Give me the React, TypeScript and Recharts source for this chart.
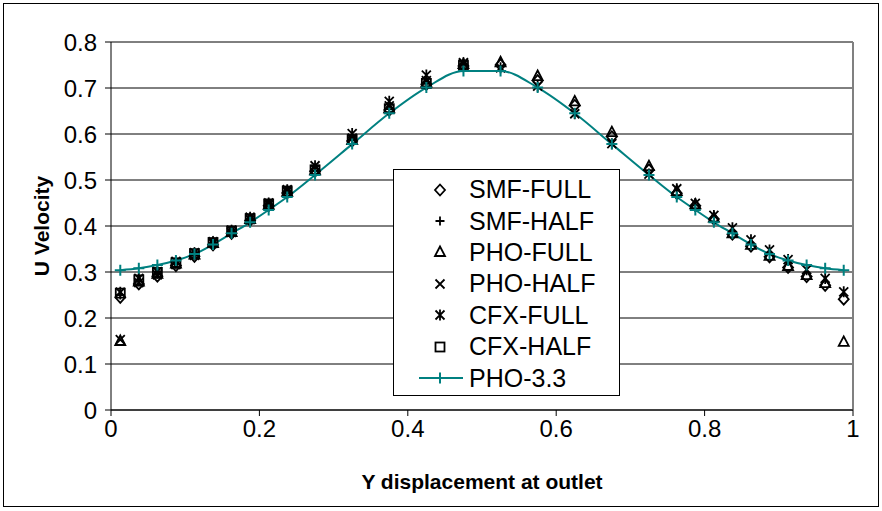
import React from "react";
import {
  ComposedChart,
  Scatter,
  Line,
  XAxis,
  YAxis,
  CartesianGrid,
  Legend,
  ReferenceLine,
} from "recharts";

const FONT = '"Liberation Sans", Arial, sans-serif';

// y displacement positions (full width), the half-domain runs stop at the middle
const xFull = [
  0.0125, 0.0375, 0.0625, 0.0875, 0.1125, 0.1375, 0.1625, 0.1875, 0.2125, 0.2375,
  0.275, 0.325, 0.375, 0.425, 0.475, 0.525, 0.575, 0.625, 0.675, 0.725,
  0.7625, 0.7875, 0.8125, 0.8375, 0.8625, 0.8875, 0.9125, 0.9375, 0.9625, 0.9875,
];
const xHalf = xFull.slice(0, 15);

const smfFull = [
  0.245, 0.274, 0.291, 0.314, 0.334, 0.359, 0.384, 0.412, 0.444, 0.472,
  0.519, 0.585, 0.652, 0.708, 0.748, 0.75, 0.716, 0.662, 0.594, 0.522,
  0.471, 0.444, 0.415, 0.382, 0.356, 0.333, 0.31, 0.29, 0.271, 0.241,
];
const smfHalf = [0.25, 0.279, 0.295, 0.317, 0.337, 0.361, 0.386, 0.413, 0.445, 0.473, 0.52, 0.586, 0.654, 0.709, 0.749];
const phoFull = [
  0.15, 0.279, 0.296, 0.318, 0.338, 0.363, 0.387, 0.415, 0.446, 0.474,
  0.521, 0.587, 0.656, 0.712, 0.752, 0.756, 0.726, 0.671, 0.604, 0.53,
  0.476, 0.447, 0.418, 0.384, 0.359, 0.335, 0.313, 0.293, 0.276, 0.148,
];
const phoHalf = [0.153, 0.277, 0.294, 0.316, 0.336, 0.362, 0.386, 0.414, 0.446, 0.475, 0.523, 0.591, 0.661, 0.716, 0.753];
const cfxFull = [
  0.256, 0.286, 0.301, 0.323, 0.342, 0.366, 0.391, 0.419, 0.45, 0.479,
  0.531, 0.601, 0.671, 0.728, 0.755, 0.744, 0.704, 0.644, 0.579, 0.513,
  0.481, 0.449, 0.423, 0.396, 0.37, 0.348, 0.327, 0.305, 0.286, 0.257,
];
const cfxHalf = [0.254, 0.283, 0.299, 0.32, 0.34, 0.364, 0.389, 0.416, 0.448, 0.476, 0.522, 0.588, 0.655, 0.71, 0.749];
const pho33 = [
  0.304, 0.308, 0.315, 0.325, 0.339, 0.36, 0.384, 0.408, 0.435, 0.463,
  0.511, 0.578, 0.645, 0.701, 0.737, 0.737, 0.701, 0.645, 0.578, 0.511,
  0.463, 0.435, 0.408, 0.384, 0.36, 0.339, 0.325, 0.315, 0.308, 0.304,
];

const xTicks = [0, 0.2, 0.4, 0.6, 0.8, 1];
const yTicks = [0, 0.1, 0.2, 0.3, 0.4, 0.5, 0.6, 0.7, 0.8];

type Kind = "diamond" | "plus" | "triangle" | "x" | "star" | "square" | "tealPlus";

const series: { name: string; kind: Kind; xs: number[]; ys: number[] }[] = [
  { name: "SMF-FULL", kind: "diamond", xs: xFull, ys: smfFull },
  { name: "SMF-HALF", kind: "plus", xs: xHalf, ys: smfHalf },
  { name: "PHO-FULL", kind: "triangle", xs: xFull, ys: phoFull },
  { name: "PHO-HALF", kind: "x", xs: xHalf, ys: phoHalf },
  { name: "CFX-FULL", kind: "star", xs: xFull, ys: cfxFull },
  { name: "CFX-HALF", kind: "square", xs: xHalf, ys: cfxHalf },
];

const toPoints = (xs: number[], ys: number[]) => xs.map((x, i) => ({ x, y: ys[i] }));

function Marker({ kind, cx, cy }: { kind: Kind; cx: number; cy: number }) {
  const k = { fill: "none", stroke: "#000", strokeWidth: 1.8 };
  switch (kind) {
    case "diamond":
      return <path d={`M${cx},${cy - 5.5}L${cx + 5},${cy}L${cx},${cy + 5.5}L${cx - 5},${cy}Z`} {...k} />;
    case "plus":
      return <path d={`M${cx - 4.5},${cy}H${cx + 4.5}M${cx},${cy - 4.5}V${cy + 4.5}`} {...k} />;
    case "triangle":
      return <path d={`M${cx},${cy - 5.5}L${cx + 5},${cy + 4}L${cx - 5},${cy + 4}Z`} {...k} />;
    case "x":
      return <path d={`M${cx - 4.5},${cy - 4.5}L${cx + 4.5},${cy + 4.5}M${cx - 4.5},${cy + 4.5}L${cx + 4.5},${cy - 4.5}`} {...k} />;
    case "star":
      return (
        <path
          d={`M${cx - 4.5},${cy - 4.5}L${cx + 4.5},${cy + 4.5}M${cx - 4.5},${cy + 4.5}L${cx + 4.5},${cy - 4.5}M${cx},${cy - 5.5}V${cy + 5.5}`}
          {...k}
        />
      );
    case "square":
      return <rect x={cx - 4.5} y={cy - 4.5} width={9} height={9} {...k} />;
    default:
      return (
        <path
          d={`M${cx - 5.5},${cy}H${cx + 5.5}M${cx},${cy - 5.5}V${cy + 5.5}`}
          fill="none"
          stroke="#008080"
          strokeWidth={2}
        />
      );
  }
}

const legendItems = [...series.map((s) => ({ name: s.name, kind: s.kind })), { name: "PHO-3.3", kind: "tealPlus" as Kind }];

function LegendBox() {
  return (
    <div
      style={{
        width: 227,
        height: 227,
        border: "1px solid #000",
        background: "#fff",
        boxSizing: "border-box",
        fontFamily: FONT,
        fontSize: 25,
        color: "#000",
        paddingTop: 4,
      }}
    >
      {legendItems.map((it) => (
        <div key={it.name} style={{ height: 31.4, display: "flex", alignItems: "center" }}>
          <svg width={54} height={20} style={{ marginLeft: 20, flexShrink: 0 }}>
            {it.kind === "tealPlus" && <line x1={5} x2={49} y1={10} y2={10} stroke="#008080" strokeWidth={2} />}
            <Marker kind={it.kind} cx={26} cy={10} />
          </svg>
          <span style={{ marginLeft: 1, lineHeight: 1, whiteSpace: "nowrap" }}>{it.name}</span>
        </div>
      ))}
    </div>
  );
}

export default function App() {
  return (
    <div style={{ position: "absolute", left: 0, top: 0, width: 882, height: 511, background: "#fff" }}>
      <div
        style={{
          position: "absolute",
          left: 3,
          top: 3,
          width: 876,
          height: 504,
          border: "1px solid #000",
          boxSizing: "border-box",
        }}
      />
      <ComposedChart width={882} height={511} margin={{ top: 42, right: 29, bottom: 0, left: 0 }}>
        <CartesianGrid vertical={false} stroke="#000" strokeWidth={1} />
        <XAxis
          type="number"
          dataKey="x"
          domain={[0, 1]}
          ticks={xTicks}
          height={101}
          stroke="#000"
          tickSize={6}
          tickMargin={4}
          tick={{ fill: "#000", fontSize: 24, fontFamily: FONT }}
          label={{
            value: "Y displacement at outlet",
            position: "insideBottom",
            offset: 22,
            style: { fill: "#000", fontSize: 21, fontWeight: "bold", fontFamily: FONT },
          }}
        />
        <YAxis
          type="number"
          domain={[0, 0.8]}
          ticks={yTicks}
          width={111}
          stroke="#000"
          tickSize={6}
          tickMargin={8}
          tick={{ fill: "#000", fontSize: 24, fontFamily: FONT }}
          label={{
            value: "U Velocity",
            angle: -90,
            position: "insideLeft",
            offset: 42,
            style: { textAnchor: "middle", fill: "#000", fontSize: 21, fontWeight: "bold", fontFamily: FONT },
          }}
        />
        <ReferenceLine x={1} stroke="#808080" strokeWidth={2} />
        {series.map((s) => (
          <Scatter
            key={s.name}
            name={s.name}
            data={toPoints(s.xs, s.ys)}
            dataKey="y"
            isAnimationActive={false}
            shape={(p: any) => <Marker kind={s.kind} cx={p.cx} cy={p.cy} />}
          />
        ))}
        <Line
          name="PHO-3.3"
          data={toPoints(xFull, pho33)}
          dataKey="y"
          type="monotone"
          stroke="#008080"
          strokeWidth={2}
          dot={(p: any) => <Marker key={p.index} kind="tealPlus" cx={p.cx} cy={p.cy} />}
          activeDot={false}
          isAnimationActive={false}
        />
        <Legend
          layout="vertical"
          align="center"
          verticalAlign="middle"
          wrapperStyle={{ left: 393, top: 169, width: 227 }}
          content={() => <LegendBox />}
        />
      </ComposedChart>
    </div>
  );
}
